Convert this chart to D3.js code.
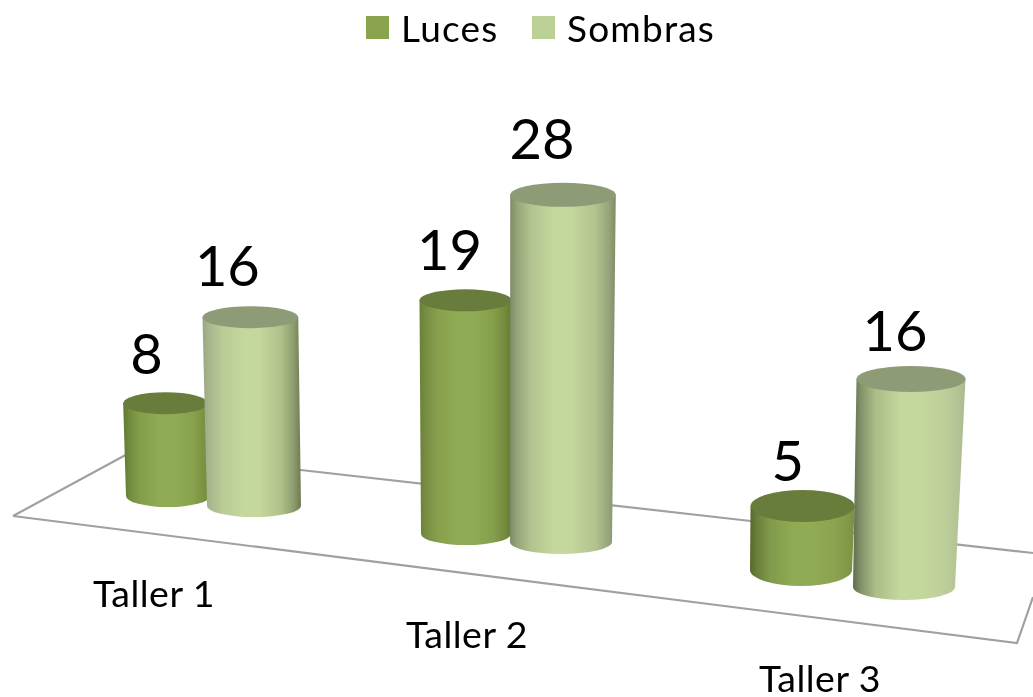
<!DOCTYPE html>
<html><head><meta charset="utf-8">
<script src="https://cdn.jsdelivr.net/npm/d3@7"></script>
<style>html,body{margin:0;padding:0;background:#fff}svg{display:block}text{font-family:Lato,"Open Sans",sans-serif;fill:#000}</style>
</head><body><div id="c"></div>
<script>
const categories = ["Taller 1","Taller 2","Taller 3"];
const seriesNames = ["Luces","Sombras"];
const luces = [8,19,5];
const sombras = [16,28,16];
const seriesValues = [luces,sombras];
const idx=[0,1,2];

const W=1033,H=697;
const svg=d3.select("#c").append("svg").attr("width",W).attr("height",H);
const defs=svg.append("defs");
defs.append("filter").attr("id","soft").append("feGaussianBlur").attr("stdDeviation",0.6);
const root=svg.append("g").attr("filter","url(#soft)");

// perspective layout: per-series scales over the category index
const cx=[d3.scaleLinear(idx,[168,466,801]),d3.scaleLinear(idx,[254,561,904])];
const baseY=[d3.scaleLinear(idx,[496,534,570]),d3.scaleLinear(idx,[506,542,587])];
const rx=[d3.scaleLinear(idx,[42,45,51]),d3.scaleLinear(idx,[47,51,51])];
const ry=[d3.scaleLinear(idx,[11,11,16]),d3.scaleLinear(idx,[11,12,13])];
const unit=[d3.scaleLinear(idx,[11.6,12.3,12.8]),d3.scaleLinear(idx,[11.8,12.4,13])];
const gapY=[d3.scaleLinear(idx,[18,19,9]),d3.scaleLinear(idx,[20,24,15])];
const gapX=[d3.scaleLinear(idx,[-19,-16,-15]),d3.scaleLinear(idx,[-23,-21,-16])];
const leanPerPx=0.0337/(904-490);
const widen=d3.scaleLinear(idx,[0.0001,0.0001,0.00033]);
const topFill=["#687d3a","#8d9c76"];
const midFill=["#90ab54","#c4d79c"];
const edgeL=[["#5f7a30","#6b7f38","#55692e"],["#99a583","#7d8b66","#5f6d4d"]];
const edgeR=[["#6e8536","#64792f","#7a9040"],["#6e7a52","#7f8c68","#aab98f"]];

// floor
const floorPts=[[13,516],[1017,643],[1033,597]];
const floorBack=[[133,451],[13,516]];
const backEdge=[[133,451],[1033,553]];
const line=d3.line();
[floorPts,floorBack,backEdge].forEach(p=>root.append("path").attr("d",line(p))
  .attr("fill","none").attr("stroke","#a0a0a0").attr("stroke-width",2.2));

// cylinders
idx.forEach(c=>seriesValues.forEach((vals,s)=>{
  const v=vals[c];
  const bx=cx[s](c),by=baseY[s](c),r=rx[s](c),e=ry[s](c);
  const h=d3.scaleLinear([0,1],[0,unit[s](c)])(v);
  const tx=bx+(bx-490)*leanPerPx*h;
  const ty=by-h,tr=r*(1+h*widen(c));
  const id=`g${s}${c}`;
  const left=edgeL[s][c],right=edgeR[s][c],mid=midFill[s];
  const mixL=d3.interpolateRgb(left,mid),mixR=d3.interpolateRgb(right,mid);
  const g=defs.append("linearGradient").attr("id",id);
  [[0,left],[0.07,mixL(0.35)],[0.2,mixL(0.75)],[0.42,mid],[0.58,mid],[0.8,mixR(0.75)],[0.93,mixR(0.35)],[1,right]]
    .forEach(o=>g.append("stop").attr("offset",o[0]).attr("stop-color",o[1]));
  root.append("path")
    .attr("d",`M${tx-tr},${ty}L${bx-r},${by}A${r},${e} 0 0 0 ${bx+r},${by}L${tx+tr},${ty}Z`)
    .attr("fill",`url(#${id})`);
  root.append("ellipse").attr("cx",tx).attr("cy",ty).attr("rx",tr).attr("ry",e).attr("fill",topFill[s]);
  root.append("text").attr("x",tx+gapX[s](c)).attr("y",ty-e-gapY[s](c)).attr("text-anchor","middle")
    .attr("font-size",56).text(v);
}));

// category labels
const catX=d3.scaleLinear(idx,[154,467,820]);
const catY=d3.scaleLinear(idx,[607,648,692]);
categories.forEach((n,i)=>root.append("text").attr("x",catX(i)).attr("y",catY(i))
  .attr("text-anchor","middle").attr("font-size",37.5).attr("letter-spacing",0.5).text(n));

// legend
const legX=d3.scalePoint().domain(seriesNames).range([366,532]);
const legFill=["#8aa34d","#bbd097"];
seriesNames.forEach((n,i)=>{
  root.append("rect").attr("x",legX(n)).attr("y",16).attr("width",23).attr("height",23).attr("fill",legFill[i]);
  root.append("text").attr("x",legX(n)+35).attr("y",42).attr("font-size",37).attr("letter-spacing",1.2).text(n);
});
</script></body></html>
